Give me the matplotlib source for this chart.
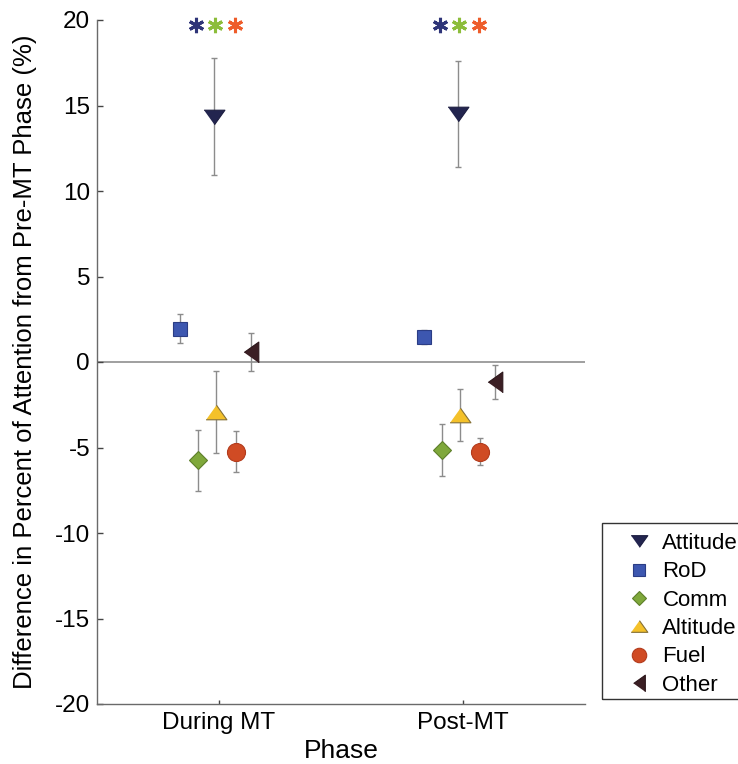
import matplotlib.pyplot as plt
import numpy as np
from matplotlib.patches import Rectangle

plt.rcParams['font.family'] = ['Liberation Sans', 'DejaVu Sans']
plt.rcParams['axes.unicode_minus'] = False

phases = ["During MT", "Post-MT"]

# mean change from the Pre-MT phase (%) and error bar half-widths
attitude_mean = [14.35, 14.5]
attitude_err = [3.4, 3.1]
rod_mean = [1.95, 1.45]
rod_err = [0.85, 0.4]
comm_mean = [-5.75, -5.15]
comm_err = [1.8, 1.5]
altitude_mean = [-2.95, -3.1]
altitude_err = [2.4, 1.5]
fuel_mean = [-5.25, -5.25]
fuel_err = [1.2, 0.8]
other_mean = [0.6, -1.15]
other_err = [1.1, 1.0]

# categories flagged as significant in each phase
sig_names = ["Attitude", "Comm", "Fuel"]
sig_y = 19.7

series = [
    ("Attitude", attitude_mean, attitude_err),
    ("RoD", rod_mean, rod_err),
    ("Comm", comm_mean, comm_err),
    ("Altitude", altitude_mean, altitude_err),
    ("Fuel", fuel_mean, fuel_err),
    ("Other", other_mean, other_err),
]

tri_down = [(-1, 0.7), (1, 0.7), (0, -0.7)]
tri_up = [(-1, -0.7), (1, -0.7), (0, 0.7)]
tri_left = [(-0.7, 0), (0.7, 1), (0.7, -1)]

styles = {
    "Attitude": dict(off=-0.02, marker=tri_down, ms=15, fc="#23254f", ec="#1c1d40"),
    "RoD": dict(off=-0.16, marker="s", ms=10, fc="#3d57b0", ec="#2b3d85"),
    "Comm": dict(off=-0.088, marker="D", ms=9.5, fc="#7fa83b", ec="#5d7f2a"),
    "Altitude": dict(off=-0.012, marker=tri_up, ms=15, fc="#f4c12a", ec="#857036"),
    "Fuel": dict(off=0.068, marker="o", ms=13, fc="#d04b24", ec="#b33b1c"),
    "Other": dict(off=0.133, marker=tri_left, ms=15, fc="#3b1f24", ec="#2c161a"),
}
star_colors = {"Attitude": "#2e3478", "Comm": "#8cbd3a", "Fuel": "#ee5c2a"}
star_off = {"Attitude": -0.095, "Comm": -0.016, "Fuel": 0.066}

fig = plt.figure(figsize=(7.38, 7.64), dpi=100)
ax = fig.add_axes([97 / 738, 60 / 764, 488 / 738, 684 / 764])

x = np.arange(1, len(phases) + 1)

ax.axhline(0, color="#8f8f8f", lw=1.2, zorder=1)

for name, mean, err in series:
    st = styles[name]
    xs = x + st["off"]
    ax.errorbar(xs, mean, yerr=err, fmt="none", ecolor="#8c8c8c",
                elinewidth=1, capsize=2.5, capthick=1, zorder=2)
    ax.plot(xs, mean, linestyle="none", marker=st["marker"], ms=st["ms"],
            mfc=st["fc"], mec=st["ec"], mew=0.8, label=name, zorder=3)

for xi in x:
    for name in sig_names:
        ax.plot(xi + star_off[name], sig_y, linestyle="none", marker=(6, 2, 0),
                ms=11, mew=2.2, color=star_colors[name], clip_on=False, zorder=4)

ax.set_xlim(0.5, 2.5)
ax.set_ylim(-20, 20)
ax.set_xticks(x)
ax.set_xticklabels(phases)
ax.set_yticks(range(-20, 21, 5))

for side in ["top", "right"]:
    ax.spines[side].set_visible(False)
for side in ["left", "bottom"]:
    ax.spines[side].set_color("#6a6a6a")
    ax.spines[side].set_linewidth(1)

ax.tick_params(axis="y", direction="in", length=4, width=1, color="#444444",
               labelsize=17.5, pad=5)
ax.tick_params(axis="x", direction="in", length=3, width=1, color="#444444",
               labelsize=17.5, pad=6)

ax.set_xlabel("Phase", fontsize=19, labelpad=3)
ax.set_ylabel("Difference in Percent of Attention from Pre-MT Phase (%)",
              fontsize=18.5)
ax.yaxis.set_label_coords(-0.122, 0.5)

# legend sits past the right edge of the figure, frame drawn separately
leg = fig.legend(loc="upper left", bbox_to_anchor=(628 / 738, 1 - 533 / 764),
                 frameon=False, fontsize=16, numpoints=1, markerscale=0.8,
                 handlelength=1.0, handletextpad=0.55, labelspacing=0.33,
                 borderpad=0, borderaxespad=0)
fig.add_artist(Rectangle((602 / 738, 65 / 764), 200 / 738, 176 / 764,
                         transform=fig.transFigure, fill=False,
                         edgecolor="#333333", linewidth=1))

fig.savefig("out.png", dpi=100)
